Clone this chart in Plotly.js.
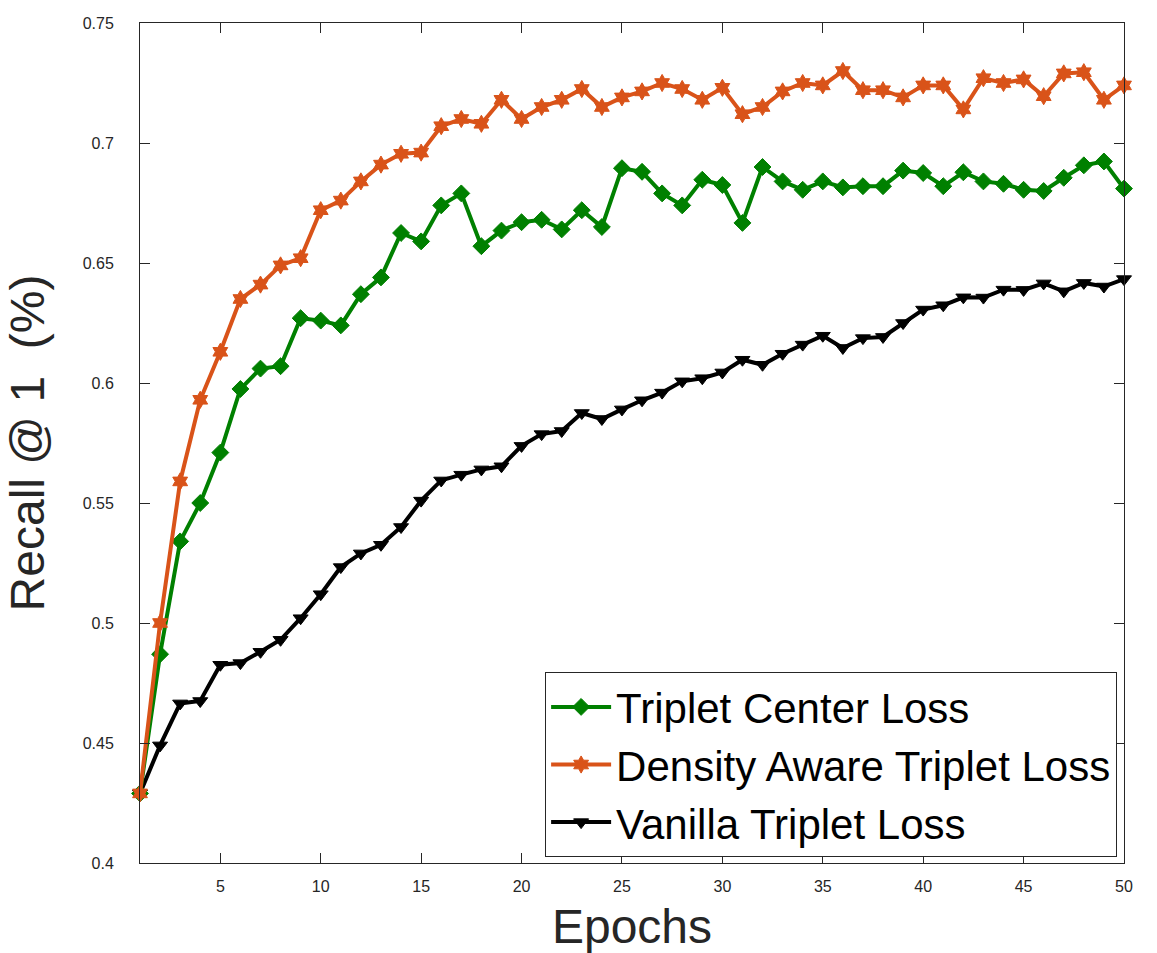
<!DOCTYPE html>
<html>
<head>
<meta charset="utf-8">
<script src="https://cdn.plot.ly/plotly-3.0.1.min.js"></script>
<style>
  html, body { margin: 0; padding: 0; background: #ffffff; }
  #chart { width: 1157px; height: 953px; }
</style>
</head>
<body>
<div id="chart"></div>
<script>
// Training epochs
const epochs = [1, 2, 3, 4, 5, 6, 7, 8, 9, 10,
  11, 12, 13, 14, 15, 16, 17, 18, 19, 20,
  21, 22, 23, 24, 25, 26, 27, 28, 29, 30,
  31, 32, 33, 34, 35, 36, 37, 38, 39, 40,
  41, 42, 43, 44, 45, 46, 47, 48, 49, 50];

// Recall@1 per epoch for each loss
const tripletCenterLoss = [0.429, 0.487, 0.534, 0.550, 0.571, 0.5975, 0.606, 0.607, 0.627, 0.626,
  0.624, 0.637, 0.644, 0.6625, 0.659, 0.674, 0.679, 0.657, 0.6635, 0.667,
  0.668, 0.664, 0.672, 0.665, 0.6895, 0.688, 0.679, 0.674, 0.6847, 0.6825,
  0.6667, 0.690, 0.684, 0.6805, 0.684, 0.6815, 0.682, 0.682, 0.6885, 0.6875,
  0.682, 0.6878, 0.684, 0.683, 0.6805, 0.680, 0.6855, 0.6907, 0.6923, 0.681];

const densityAwareTripletLoss = [0.429, 0.500, 0.559, 0.593, 0.613, 0.635, 0.641, 0.649, 0.652, 0.672,
  0.676, 0.684, 0.691, 0.6955, 0.696, 0.707, 0.710, 0.708, 0.718, 0.710,
  0.715, 0.718, 0.7225, 0.715, 0.719, 0.7215, 0.725, 0.7225, 0.718, 0.723,
  0.712, 0.715, 0.7215, 0.725, 0.724, 0.730, 0.722, 0.722, 0.719, 0.724,
  0.724, 0.714, 0.727, 0.725, 0.7265, 0.7195, 0.729, 0.7295, 0.718, 0.724];

const vanillaTripletLoss = [0.429, 0.449, 0.4665, 0.4675, 0.4826, 0.4833, 0.488, 0.493, 0.502, 0.512,
  0.5233, 0.529, 0.5326, 0.540, 0.551, 0.5594, 0.5618, 0.564, 0.5653, 0.5738,
  0.5787, 0.580, 0.5875, 0.585, 0.589, 0.5928, 0.596, 0.6007, 0.602, 0.6044,
  0.6097, 0.6076, 0.6122, 0.616, 0.6197, 0.6146, 0.6187, 0.6192, 0.625, 0.6306,
  0.6324, 0.6357, 0.6356, 0.6389, 0.6388, 0.6415, 0.6382, 0.6417, 0.6402, 0.6433];

// Axis ticks
const xTickVals = [5, 10, 15, 20, 25, 30, 35, 40, 45, 50];
const yTickVals = [0.4, 0.45, 0.5, 0.55, 0.6, 0.65, 0.7, 0.75];
const yTickText = ['0.4', '0.45', '0.5', '0.55', '0.6', '0.65', '0.7', '0.75'];

const FONT = 'Liberation Sans, Arial, Helvetica, sans-serif';
const AXIS_COLOR = '#262626';

function series(name, y, color, symbol, size, rank) {
  return {
    x: epochs, y: y, name: name, type: 'scatter', mode: 'lines+markers',
    line: { color: color, width: 4 },
    marker: { color: color, symbol: symbol, size: size, line: { color: color, width: 1 } },
    cliponaxis: false,
    legendrank: rank
  };
}

const traces = [
  series('Vanilla Triplet Loss', vanillaTripletLoss, '#000000', 'triangle-down', 13, 3),
  series('Triplet Center Loss', tripletCenterLoss, '#008000', 'diamond', 13, 1),
  series('Density Aware Triplet Loss', densityAwareTripletLoss, '#D95319', 'hexagram', 13, 2)
];

const axisCommon = {
  showline: true, linecolor: AXIS_COLOR, linewidth: 1,
  mirror: 'ticks', ticks: 'inside', ticklen: 10, tickwidth: 1, tickcolor: AXIS_COLOR,
  showgrid: false, zeroline: false,
  tickfont: { family: FONT, size: 16, color: AXIS_COLOR }
};

const layout = {
  width: 1157, height: 953,
  margin: { l: 140, r: 33, t: 23, b: 90 },
  paper_bgcolor: '#ffffff', plot_bgcolor: '#ffffff',
  showlegend: true,
  xaxis: Object.assign({}, axisCommon, {
    range: [1, 50], tickmode: 'array', tickvals: xTickVals,
    ticklabelstandoff: 9,
    title: { text: 'Epochs', font: { family: FONT, size: 48, color: AXIS_COLOR }, standoff: 20 }
  }),
  yaxis: Object.assign({}, axisCommon, {
    range: [0.4, 0.75], tickmode: 'array', tickvals: yTickVals, ticktext: yTickText,
    ticklabelstandoff: 22,
    title: { text: 'Recall @ 1\u00a0\u00a0(%)', font: { family: FONT, size: 48, color: AXIS_COLOR }, standoff: 22 }
  }),
  legend: {
    x: 0.993, xanchor: 'right', y: 0.007, yanchor: 'bottom',
    bgcolor: '#ffffff', bordercolor: '#262626', borderwidth: 1,
    font: { family: FONT, size: 42, color: '#000000' },
    itemwidth: 60, tracegroupgap: 0
  }
};

Plotly.newPlot('chart', traces, layout, { displayModeBar: false, staticPlot: true });
</script>
</body>
</html>
